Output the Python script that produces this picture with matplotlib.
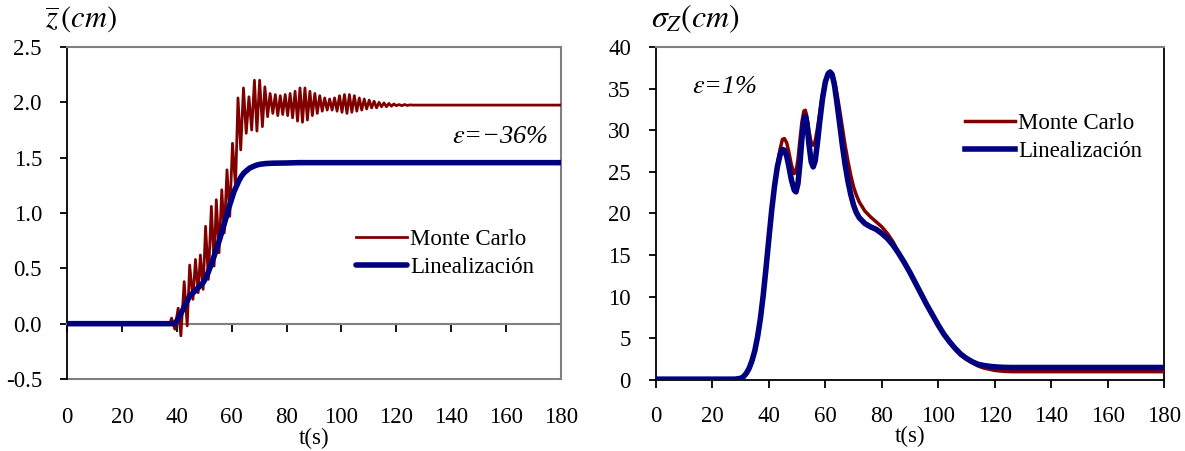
import matplotlib
matplotlib.use("Agg")
import matplotlib.pyplot as plt

plt.rcParams['font.family'] = ['Liberation Serif', 'DejaVu Serif']
plt.rcParams['mathtext.fontset'] = 'stix'

RED = '#800000'
BLUE = '#000080'

# ---------------- Left panel data: mean displacement ----------------
mc_mean_t = [0, 37.0, 37.5, 38.1, 39.3, 40.5, 41.5, 42.7, 43.8, 44.7, 45.9, 46.8, 47.8,
             48.6, 49.6, 50.5, 51.5, 52.6, 53.6, 54.4, 55.4, 56.4, 57.3, 58.3, 59.3,
             60.3, 61.4, 62.3, 63.3, 64.3, 65.3, 66.3, 67.3, 68.3, 69.2, 70.2, 71.2,
             72.1, 73.1, 74.0, 75.0, 75.9, 76.8, 77.7, 78.6, 79.5, 80.4, 81.3, 82.2,
             83.1, 84.0, 84.9, 85.8, 86.7, 87.6, 88.5, 89.4, 90.3, 91.2, 92.1, 93.0,
             93.9, 94.8, 95.7, 96.6, 97.5, 98.4, 99.3, 100.2, 101.1, 102.0, 102.9,
             103.8, 104.7, 105.6, 106.5, 107.4, 108.3, 109.2, 110.1, 111.0, 111.9,
             112.8, 113.7, 114.6, 115.5, 116.4, 117.3, 118.2, 119.1, 120.0, 121.0,
             122.0, 123.0, 124.0, 125.0, 126.0, 180]
mc_mean_z = [0, 0.0, 0.0, 0.05, -0.05, 0.14, -0.11, 0.38, -0.02, 0.53, 0.22, 0.58, 0.28,
             0.62, 0.31, 0.88, 0.40, 1.06, 0.52, 1.12, 0.64, 1.21, 0.82, 1.39, 0.97,
             1.63, 1.24, 2.04, 1.57, 2.13, 1.72, 2.05, 1.75, 2.20, 1.74, 2.20, 1.78,
             2.14, 1.87, 2.08, 1.90, 2.07, 1.88, 2.06, 1.89, 2.07, 1.88, 2.08, 1.86,
             2.10, 1.83, 2.13, 1.82, 2.13, 1.84, 2.10, 1.88, 2.08, 1.90, 2.06, 1.92,
             2.04, 1.93, 2.03, 1.93, 2.04, 1.92, 2.06, 1.91, 2.07, 1.90, 2.07,
             1.91, 2.06, 1.92, 2.04, 1.93, 2.03, 1.94, 2.02, 1.95, 2.01,
             1.95, 2.00, 1.96, 1.995, 1.96, 1.99, 1.965, 1.985, 1.97, 1.98,
             1.97, 1.98, 1.972, 1.977, 1.975, 1.975]

lin_mean_t = [0, 39.3, 39.9, 41.0, 42.3, 43.5, 44.7, 46.0, 47.2, 48.4, 49.6, 50.5, 51.4,
              52.3, 53.2, 54.4, 55.6, 56.8, 58.1, 59.0, 59.9, 60.8, 61.7, 62.6, 63.5,
              64.4, 65.3, 66.5, 67.8, 69.0, 70.2, 72.5, 75.0, 80.0, 84.7, 180]
lin_mean_z = [0, 0, 0.02, 0.07, 0.13, 0.19, 0.25, 0.28, 0.31, 0.34, 0.37, 0.41, 0.46,
              0.52, 0.58, 0.67, 0.76, 0.86, 0.97, 1.05, 1.12, 1.19, 1.24, 1.29, 1.33,
              1.36, 1.38, 1.405, 1.42, 1.432, 1.44, 1.447, 1.45, 1.452, 1.455, 1.455]

# ---------------- Right panel data: standard deviation ----------------
lin_std_t = [0, 28, 30, 31, 32, 33, 34, 35, 36, 37, 38, 39, 40, 41, 42, 43, 44, 44.8,
             45.5, 46.3, 47, 48, 49, 49.6, 50.3, 51, 51.7, 52.4, 52.9, 53.5, 54.2, 55,
             55.7, 56.4, 57.2, 58, 59, 60, 61, 61.7, 62.4, 63.2, 64, 65, 66, 67, 68,
             69, 70, 71, 72, 74, 76, 78, 80, 82, 84, 86, 88, 90, 92, 94, 96, 98, 100,
             102, 104, 106, 108, 110, 112, 114, 116, 118, 120, 123, 126, 180]
lin_std_s = [0.1, 0.1, 0.2, 0.4, 0.8, 1.4, 2.3, 3.5, 5.2, 7.4, 10.2, 13.5, 17.0, 20.4,
             23.3, 25.6, 27.1, 27.7, 27.6, 26.9, 25.8, 24.0, 22.8, 22.6, 23.6, 26.0,
             29.0, 31.2, 31.7, 30.8, 28.3, 26.2, 25.6, 26.3, 28.5, 31.0, 33.8, 35.8,
             36.8, 37.0, 36.7, 35.5, 33.6, 31.0, 28.3, 25.9, 23.9, 22.3, 21.0, 20.1,
             19.5, 18.8, 18.4, 18.1, 17.6, 17.0, 16.2, 15.2, 14.1, 12.9, 11.6, 10.3,
             9.0, 7.8, 6.6, 5.5, 4.6, 3.8, 3.1, 2.6, 2.2, 1.9, 1.75, 1.65, 1.58, 1.52,
             1.5, 1.5]

mc_std_t = [0, 28, 30, 31, 32, 33, 34, 35, 36, 37, 38, 39, 40, 41, 42, 43, 44, 44.8,
            45.5, 46.3, 47, 48, 49, 49.6, 50.3, 51, 51.7, 52.4, 52.9, 53.5, 54.2, 55,
            55.7, 56.4, 57.2, 58, 59, 60, 61, 61.7, 62.4, 63.2, 64, 65, 66, 67, 68,
            69, 70, 71, 72, 74, 76, 78, 80, 82, 84, 86, 88, 90, 92, 94, 96, 98, 100,
            102, 104, 106, 108, 110, 112, 114, 116, 118, 120, 123, 126, 180]
mc_std_s = [0.1, 0.1, 0.2, 0.4, 0.8, 1.4, 2.3, 3.5, 5.2, 7.4, 10.2, 13.5, 17.0, 20.4,
            23.4, 25.9, 27.8, 28.9, 29.0, 28.5, 27.5, 25.8, 24.8, 25.0, 26.5, 28.8,
            31.0, 32.3, 32.4, 31.6, 29.9, 28.5, 28.2, 28.7, 30.2, 32.0, 34.3, 36.0,
            36.9, 37.0, 36.8, 36.0, 34.6, 32.6, 30.4, 28.2, 26.3, 24.6, 23.2, 22.2,
            21.4, 20.3, 19.6, 19.0, 18.4, 17.6, 16.6, 15.3, 14.1, 12.9, 11.6, 10.3,
            9.0, 7.8, 6.6, 5.5, 4.5, 3.7, 3.0, 2.5, 2.1, 1.7, 1.45, 1.3, 1.15, 1.05,
            1.0, 1.0]

x_ticks = [0, 20, 40, 60, 80, 100, 120, 140, 160, 180]
left_yticks = [-0.5, 0.0, 0.5, 1.0, 1.5, 2.0, 2.5]
right_yticks = [0, 5, 10, 15, 20, 25, 30, 35, 40]

FS = 16.5
fig = plt.figure(figsize=(11.85, 4.51), dpi=100)

# ================= Left panel =================
axL = fig.add_axes([67/1185, 1-379/451, (561-67)/1185, (379-47)/451])
axL.plot(mc_mean_t, mc_mean_z, color=RED, lw=2.0, label='Monte Carlo', zorder=3)
axL.plot(lin_mean_t, lin_mean_z, color=BLUE, lw=4, label='Linealización', zorder=4,
         solid_capstyle='round')
axL.set_xlim(0, 180)
axL.set_ylim(-0.5, 2.5)
axL.set_yticks(left_yticks)
axL.set_yticklabels([f'{v:.1f}' for v in left_yticks])
axL.spines['left'].set_color('black')
axL.spines['left'].set_linewidth(1.3)
for s in ('top', 'right'):
    axL.spines[s].set_color('#808080')
    axL.spines[s].set_linewidth(1.5)
axL.spines['bottom'].set_position(('data', 0))
axL.spines['bottom'].set_color('#808080')
axL.spines['bottom'].set_linewidth(1.5)
axL.set_xticks(x_ticks)
axL.tick_params(axis='x', direction='out', length=6, width=1.3, color='black',
                labelbottom=False)
axL.tick_params(axis='y', direction='out', length=5, width=1.3, pad=13, labelsize=FS)
secL = axL.secondary_xaxis(-0.0)
secL.set_xticks(x_ticks)
secL.tick_params(length=0, pad=20, labelsize=FS)
secL.spines['bottom'].set_color('#808080')
secL.spines['bottom'].set_linewidth(1.5)
secL.set_xlabel('t(s)', fontsize=FS, labelpad=0)
axL.text(-0.045, 1.035, r'$\overline{z}\,(cm)$', transform=axL.transAxes, fontsize=22,
         ha='left', va='bottom')
axL.text(0.78, 0.73, r'$\varepsilon$=−36%', transform=axL.transAxes, fontsize=19,
         style='italic', ha='left', va='center')
axL.legend(loc='upper left', bbox_to_anchor=(0.562, 0.485), frameon=False, fontsize=FS,
           handlelength=2.2, handletextpad=0.15, labelspacing=0.3, borderpad=0)

# ================= Right panel =================
axR = fig.add_axes([656/1185, 1-380/451, (1164-656)/1185, (380-47)/451])
axR.plot(mc_std_t, mc_std_s, color=RED, lw=2.5, label='Monte Carlo', zorder=3)
axR.plot(lin_std_t, lin_std_s, color=BLUE, lw=4, label='Linealización', zorder=4)
axR.set_xlim(0, 180)
axR.set_ylim(0, 40)
axR.set_yticks(right_yticks)
axR.set_xticks(x_ticks)
for s in ('left', 'bottom', 'right'):
    axR.spines[s].set_color('black')
    axR.spines[s].set_linewidth(1.3)
axR.spines['top'].set_color('#808080')
axR.spines['top'].set_linewidth(1.5)
axR.tick_params(axis='x', direction='out', length=6, width=1.3, pad=13, labelsize=FS)
axR.tick_params(axis='y', direction='out', length=5, width=1.3, pad=13, labelsize=FS)
axR.set_xlabel('t(s)', fontsize=FS, labelpad=-1)
axR.text(-0.01, 1.035, r'$\sigma_Z(cm)$', transform=axR.transAxes, fontsize=23,
         ha='left', va='bottom')
axR.text(0.07, 0.88, r'$\varepsilon$=1%', transform=axR.transAxes, fontsize=19,
         style='italic', ha='left', va='center')
axR.legend(loc='upper left', bbox_to_anchor=(0.585, 0.835), frameon=False, fontsize=FS,
           handlelength=2.2, handletextpad=0.15, labelspacing=0.3, borderpad=0)

fig.savefig('out.png', dpi=100)
